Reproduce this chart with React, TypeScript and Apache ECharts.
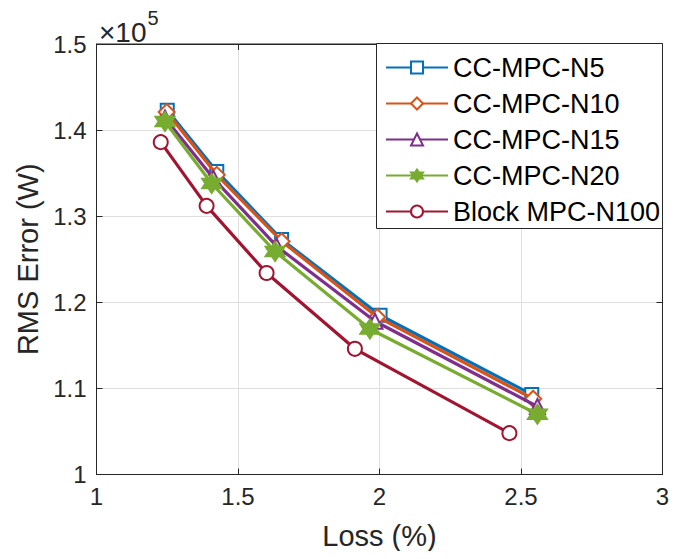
import React, { useEffect, useRef } from "react";
import * as echarts from "echarts";

const seriesNames = ["CC-MPC-N5", "CC-MPC-N10", "CC-MPC-N15", "CC-MPC-N20", "Block MPC-N100"];
const lossN5 = [1.25, 1.425, 1.654, 2.002, 2.538];
const rmsN5 = [1.423, 1.352, 1.273, 1.185, 1.093];
const lossN10 = [1.248, 1.425, 1.654, 1.992, 2.543];
const rmsN10 = [1.421, 1.348, 1.271, 1.183, 1.088];
const lossN15 = [1.242, 1.413, 1.637, 1.984, 2.558];
const rmsN15 = [1.414, 1.344, 1.265, 1.178, 1.079];
const lossN20 = [1.242, 1.407, 1.631, 1.966, 2.558];
const rmsN20 = [1.41, 1.338, 1.259, 1.169, 1.07];
const lossN100 = [1.227, 1.389, 1.601, 1.913, 2.459];
const rmsN100 = [1.386, 1.312, 1.234, 1.146, 1.048];
const xTicks = [1, 1.5, 2, 2.5, 3];
const yTicks = [1, 1.1, 1.2, 1.3, 1.4, 1.5];

const colors = ["#0072BD", "#D95319", "#7E2F8E", "#77AC30", "#A2142F"];
const hexagram =
  "path://M100 0L128.9 50L186.6 50L157.7 100L186.6 150L128.9 150L100 200L71.1 150L13.4 150L42.3 100L13.4 50L71.1 50Z";
const symbols = ["emptyRect", "emptyDiamond", "emptyTriangle", hexagram, "emptyCircle"];
const symbolSizes = [13, 16, 15, 18, 14];

const FONT = "'Liberation Sans', Arial, Helvetica, sans-serif";

export default function App() {
  const ref = useRef<HTMLDivElement>(null);
  useEffect(() => {
    if (!ref.current) return;
    const chart = echarts.init(ref.current, null, { renderer: "svg" });
    const xs = [lossN5, lossN10, lossN15, lossN20, lossN100];
    const ys = [rmsN5, rmsN10, rmsN15, rmsN20, rmsN100];
    const series = seriesNames.map((name, i) => ({
      name,
      type: "line",
      data: xs[i].map((x, j) => [x, ys[i][j]]),
      symbol: symbols[i],
      symbolSize: symbolSizes[i],
      showAllSymbol: true,
      lineStyle: { color: colors[i], width: 3.2 },
      itemStyle: { color: colors[i], borderColor: colors[i], borderWidth: 2.5 },
      emphasis: { disabled: true },
      z: 2 + i,
    }));
    const axisCommon = {
      axisLine: { show: true, lineStyle: { color: "#262626", width: 1 } },
      axisTick: { show: true, inside: true, length: 6, lineStyle: { color: "#262626" } },
    };
    chart.setOption({
      animation: false,
      textStyle: { fontFamily: FONT },
      grid: {
        left: 96.5,
        right: 20.5,
        top: 44,
        bottom: 84.5,
        show: true,
        borderColor: "#262626",
        borderWidth: 1,
        backgroundColor: "#ffffff",
      },
      xAxis: [
        {
          type: "value",
          min: xTicks[0],
          max: xTicks[xTicks.length - 1],
          interval: 0.5,
          name: "Loss (%)",
          nameLocation: "middle",
          nameGap: 47,
          nameTextStyle: { fontSize: 29, color: "#262626", fontFamily: FONT },
          ...axisCommon,
          axisLabel: { fontSize: 24, color: "#262626", margin: 10, fontFamily: FONT },
          splitLine: { show: true, lineStyle: { color: "#dfdfdf", width: 1 } },
        },
        {
          type: "value",
          position: "top",
          min: xTicks[0],
          max: xTicks[xTicks.length - 1],
          interval: 0.5,
          ...axisCommon,
          axisLabel: { show: false },
          splitLine: { show: false },
        },
      ],
      yAxis: [
        {
          type: "value",
          min: yTicks[0],
          max: yTicks[yTicks.length - 1],
          interval: 0.1,
          name: "RMS Error (W)",
          nameLocation: "middle",
          nameGap: 53,
          nameTextStyle: { fontSize: 29, color: "#262626", fontFamily: FONT },
          ...axisCommon,
          axisLabel: { fontSize: 24, color: "#262626", margin: 10, fontFamily: FONT },
          splitLine: { show: true, lineStyle: { color: "#dfdfdf", width: 1 } },
        },
        {
          type: "value",
          position: "right",
          min: yTicks[0],
          max: yTicks[yTicks.length - 1],
          interval: 0.1,
          ...axisCommon,
          axisLabel: { show: false },
          splitLine: { show: false },
        },
      ],
      legend: {
        orient: "vertical",
        left: 385,
        top: 54,
        padding: 0,
        itemWidth: 62,
        itemHeight: 15,
        itemGap: 9,
        selectedMode: false,
        z: 20,
        textStyle: { fontSize: 27, color: "#000000", lineHeight: 24.5, fontFamily: FONT },
        data: seriesNames,
      },
      graphic: [
        {
          type: "rect",
          left: 376,
          top: 43,
          shape: { width: 286, height: 185 },
          style: { fill: "#ffffff", stroke: "#262626", lineWidth: 1 },
          z: 10,
        },
        {
          type: "text",
          left: 99,
          top: 8,
          style: {
            text: "{a|×10}{b|5}",
            rich: {
              a: { fontSize: 28, fill: "#262626", fontFamily: FONT, verticalAlign: "bottom", padding: [10, 0, 0, 0] },
              b: { fontSize: 20, fill: "#262626", fontFamily: FONT, verticalAlign: "top", padding: [0, 0, 12, 1] },
            },
          },
        },
      ],
      series,
    });
    return () => chart.dispose();
  }, []);
  return <div ref={ref} style={{ width: 683, height: 559, margin: -8 }} />;
}
